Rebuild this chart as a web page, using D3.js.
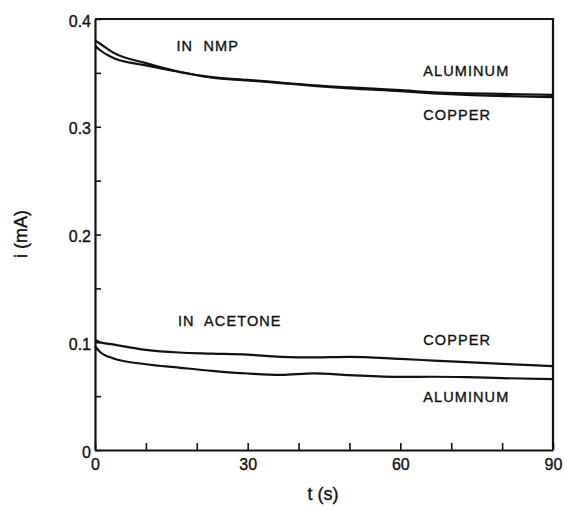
<!DOCTYPE html>
<html>
<head>
<meta charset="utf-8">
<script src="https://cdn.jsdelivr.net/npm/d3@7"></script>
<style>
  html, body { margin: 0; padding: 0; background: #fff; }
  svg text { font-family: "Liberation Sans", Arial, sans-serif; fill: #111; stroke: #111; stroke-width: 0.35px; }
</style>
</head>
<body>
<svg id="chart" width="564" height="506"></svg>
<script>
// Sampling times (s), shared by all four current traces
const times = [0, 1, 3.5, 10, 16.5, 23, 30, 36.5, 43, 50, 60, 66.5, 73, 80, 90];

// Current (mA) in NMP
const nmpAluminum = [0.380, 0.377, 0.369, 0.359, 0.351, 0.346, 0.3435, 0.341, 0.3385, 0.3365, 0.334, 0.332, 0.331, 0.3305, 0.3295];
const nmpCopper   = [0.375, 0.371, 0.364, 0.357, 0.351, 0.3455, 0.343, 0.3405, 0.338, 0.3355, 0.333, 0.331, 0.3295, 0.3285, 0.3275];

// Current (mA) in acetone
const acetoneCopper   = [0.102, 0.100, 0.098, 0.093, 0.0905, 0.0895, 0.0885, 0.0865, 0.086, 0.0865, 0.0845, 0.083, 0.0815, 0.080, 0.0778];
const acetoneAluminum = [0.0963, 0.091, 0.0852, 0.0796, 0.0765, 0.0735, 0.071, 0.0698, 0.0712, 0.0695, 0.0678, 0.068, 0.0676, 0.0667, 0.0657];

// Axis ticks
const xTicks = [0, 10, 20, 30, 40, 50, 60, 70, 80, 90];
const xTickLabels = [0, 30, 60, 90];
const yTicks = [0, 0.05, 0.1, 0.15, 0.2, 0.25, 0.3, 0.35, 0.4];
const yTickLabels = [0, 0.1, 0.2, 0.3, 0.4];

// Curve annotations
const labels = [
  { text: "IN  NMP",     t: 16,   v: 0.3705 },
  { text: "ALUMINUM",    t: 64.5, v: 0.3475 },
  { text: "COPPER",      t: 64.5, v: 0.3065 },
  { text: "IN  ACETONE", t: 16.3, v: 0.1155 },
  { text: "COPPER",      t: 64.5, v: 0.0975 },
  { text: "ALUMINUM",    t: 64.5, v: 0.0445 }
];

const svg = d3.select("#chart");
const plotLeft = 95, plotRight = 553, plotTop = 19, plotBottom = 450;

const x = d3.scaleLinear().domain([0, 90]).range([plotLeft, plotRight]);
const y = d3.scaleLinear().domain([0, 0.4]).range([plotBottom, plotTop]);

// Frame (top and right edges)
svg.append("path")
  .attr("d", `M${plotLeft},${plotTop}H${plotRight}V${plotBottom}`)
  .attr("fill", "none").attr("stroke", "#111").attr("stroke-width", 2.2);

// Bottom axis with inward ticks
const xAxis = svg.append("g")
  .attr("transform", `translate(0,${plotBottom})`)
  .call(d3.axisBottom(x).tickValues(xTicks).tickSizeInner(-7).tickSizeOuter(0).tickPadding(9)
    .tickFormat(d => xTickLabels.includes(d) ? d : ""));

// Left axis with inward ticks
const yAxis = svg.append("g")
  .attr("transform", `translate(${plotLeft},0)`)
  .call(d3.axisLeft(y).tickValues(yTicks).tickSizeInner(-6).tickSizeOuter(0).tickPadding(4)
    .tickFormat(d => yTickLabels.some(v => Math.abs(v - d) < 1e-9) ? (d === 0 ? "0" : d.toFixed(1)) : ""));

[xAxis, yAxis].forEach(g => {
  g.select(".domain").attr("stroke", "#111").attr("stroke-width", 2.2);
  g.selectAll(".tick line").attr("stroke", "#111").attr("stroke-width", 1.6);
  g.selectAll(".tick text").attr("font-size", 16).attr("fill", "#111")
    .style("font-family", '"Liberation Sans", Arial, sans-serif');
});
xAxis.selectAll(".tick text").attr("dy", "0.71em");
yAxis.selectAll(".tick text").attr("dy", "0.45em");

// Traces
const line = d3.line()
  .x((d, i) => x(times[i]))
  .y(d => y(d))
  .curve(d3.curveMonotoneX);

[nmpAluminum, nmpCopper, acetoneCopper, acetoneAluminum].forEach(series => {
  svg.append("path")
    .datum(series)
    .attr("d", line)
    .attr("fill", "none")
    .attr("stroke", "#111")
    .attr("stroke-width", 2.2);
});

// Annotations
svg.selectAll("text.note")
  .data(labels)
  .join("text")
  .attr("class", "note")
  .attr("x", d => x(d.t))
  .attr("y", d => y(d.v))
  .attr("font-size", 14.5)
  .attr("letter-spacing", 1.1)
  .style("white-space", "pre")
  .text(d => d.text);

// Axis titles
svg.append("text")
  .attr("x", 323).attr("y", 500)
  .attr("text-anchor", "middle")
  .attr("font-size", 18)
  .text("t (s)");

svg.append("text")
  .attr("transform", "translate(27,234) rotate(-90)")
  .attr("text-anchor", "middle")
  .attr("font-size", 18)
  .text("i (mA)");
</script>
</body>
</html>
